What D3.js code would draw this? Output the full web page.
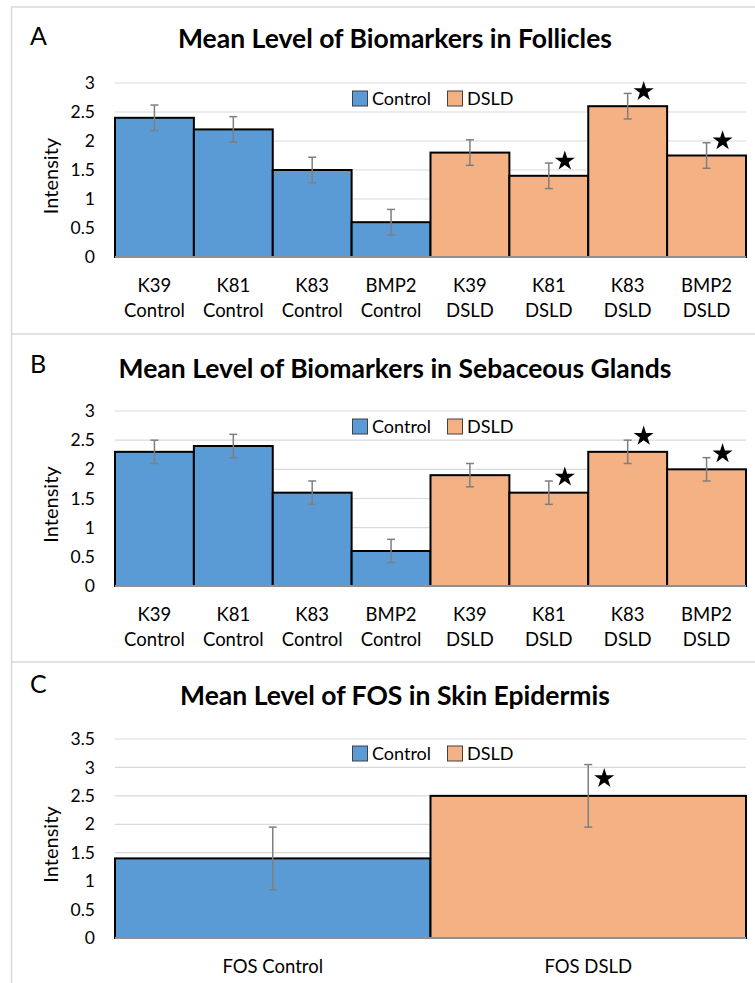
<!DOCTYPE html>
<html>
<head>
<meta charset="utf-8">
<script src="https://cdn.jsdelivr.net/npm/d3@7"></script>
<style>
  html, body { margin: 0; padding: 0; background: #fff; }
  svg { display: block; font-family: Lato, "Open Sans", sans-serif; }
</style>
</head>
<body>
<script>
// values
const bioCats = ["K39 Control", "K81 Control", "K83 Control", "BMP2 Control",
                 "K39 DSLD", "K81 DSLD", "K83 DSLD", "BMP2 DSLD"];
const bioGroups = ["Control", "Control", "Control", "Control", "DSLD", "DSLD", "DSLD", "DSLD"];

const follValues = [2.4, 2.2, 1.5, 0.6, 1.8, 1.4, 2.6, 1.75];
const follErr = [0.22, 0.22, 0.22, 0.22, 0.22, 0.22, 0.22, 0.22];
const follStar = [0, 0, 0, 0, 0, 1, 1, 1];

const sebValues = [2.3, 2.4, 1.6, 0.6, 1.9, 1.6, 2.3, 2.0];
const sebErr = [0.2, 0.2, 0.2, 0.2, 0.2, 0.2, 0.2, 0.2];
const sebStar = [0, 0, 0, 0, 0, 1, 1, 1];

const fosCats = ["FOS Control", "FOS DSLD"];
const fosGroups = ["Control", "DSLD"];
const fosValues = [1.4, 2.5];
const fosErr = [0.55, 0.55];
const fosStar = [0, 1];

const legendKeys = ["Control", "DSLD"];
const colors = { Control: "#5b9bd5", DSLD: "#f4b183" };

let width = 755, height = 983;

var svg = d3.select("body")
  .append("svg")
  .attr("width", width)
  .attr("height", height);

// panel frames
let frame = svg.append("g").attr("stroke", "#d9d9d9").attr("stroke-width", 1.5);
frame.append("line").attr("x1", 11.5).attr("x2", 11.5).attr("y1", 7).attr("y2", height);
[7, 334, 662].forEach(y => {
  frame.append("line").attr("x1", 11).attr("x2", width).attr("y1", y).attr("y2", y);
});

const panels = [
  { letter: "A", title: "Mean Level of Biomarkers in Follicles",
    cats: bioCats, groups: bioGroups, values: follValues, err: follErr, star: follStar,
    yMax: 3, y0: 257, y1: 83, labelY: 45, titleY: 48, legendY: 98, wrap: true, starDy: -2 },
  { letter: "B", title: "Mean Level of Biomarkers in Sebaceous Glands",
    cats: bioCats, groups: bioGroups, values: sebValues, err: sebErr, star: sebStar,
    yMax: 3, y0: 586, y1: 411, labelY: 373, titleY: 378, legendY: 426, wrap: true, starDy: -4 },
  { letter: "C", title: "Mean Level of FOS in Skin Epidermis",
    cats: fosCats, groups: fosGroups, values: fosValues, err: fosErr, star: fosStar,
    yMax: 3.5, y0: 938, y1: 739, labelY: 693, titleY: 705, legendY: 753, wrap: false, starDy: 14 }
];

panels.forEach(drawPanel);

function drawPanel(p) {
  let g = svg.append("g");

  let x = d3.scaleBand().domain(p.cats).range([115, 746]).padding(0);
  let y = d3.scaleLinear().domain([0, p.yMax]).range([p.y0, p.y1]);
  let ticks = d3.range(0, p.yMax + 0.001, 0.5);

  g.append("text")
    .attr("x", 30).attr("y", p.labelY)
    .attr("font-size", 25)
    .attr("fill", "#000")
    .text(p.letter);

  g.append("text")
    .attr("x", 395).attr("y", p.titleY)
    .attr("text-anchor", "middle")
    .attr("font-size", 26.5)
    .attr("font-weight", "bold")
    .text(p.title);

  // gridlines
  g.append("g")
    .selectAll("line")
    .data(ticks.slice(1))
    .enter()
    .append("line")
    .attr("x1", 115).attr("x2", 746)
    .attr("y1", d => y(d)).attr("y2", d => y(d))
    .attr("stroke", "#d9d9d9")
    .attr("stroke-width", 1.2);

  // y axis labels
  let yAxis = g.append("g")
    .attr("transform", "translate(115,0)")
    .call(d3.axisLeft(y).tickValues(ticks).tickSize(0).tickPadding(20).tickFormat(d3.format("")));
  yAxis.select(".domain").remove();
  yAxis.selectAll("text")
    .attr("font-size", 17.5)
    .attr("font-family", "Lato, 'Open Sans', sans-serif")
    .attr("fill", "#000");

  g.append("text")
    .attr("transform", "translate(58," + ((p.y0 + p.y1) / 2 + 6) + ") rotate(-90)")
    .attr("text-anchor", "middle")
    .attr("font-size", 20)
    .text("Intensity");

  // bars
  g.append("g")
    .selectAll("rect")
    .data(p.values)
    .enter()
    .append("rect")
    .attr("x", (d, i) => x(p.cats[i]))
    .attr("y", d => y(d))
    .attr("width", x.bandwidth())
    .attr("height", d => y(0) - y(d))
    .attr("fill", (d, i) => colors[p.groups[i]])
    .attr("stroke", "#000")
    .attr("stroke-width", 2);

  // baseline
  g.append("line")
    .attr("x1", 115).attr("x2", 746)
    .attr("y1", y(0)).attr("y2", y(0))
    .attr("stroke", "#bfbfbf")
    .attr("stroke-width", 1.5);

  // error bars
  let eb = g.append("g")
    .attr("stroke", "#7f7f7f")
    .attr("stroke-width", 1.5)
    .selectAll("g")
    .data(p.values)
    .enter()
    .append("g");
  eb.append("line")
    .attr("x1", (d, i) => x(p.cats[i]) + x.bandwidth() / 2)
    .attr("x2", (d, i) => x(p.cats[i]) + x.bandwidth() / 2)
    .attr("y1", (d, i) => y(d + p.err[i]))
    .attr("y2", (d, i) => y(d - p.err[i]));
  [1, -1].forEach(s => {
    eb.append("line")
      .attr("x1", (d, i) => x(p.cats[i]) + x.bandwidth() / 2 - 4)
      .attr("x2", (d, i) => x(p.cats[i]) + x.bandwidth() / 2 + 4)
      .attr("y1", (d, i) => y(d + s * p.err[i]))
      .attr("y2", (d, i) => y(d + s * p.err[i]));
  });

  // significance stars
  g.append("g")
    .selectAll("path")
    .data(p.values.map((v, i) => ({ v: v, i: i })).filter(d => p.star[d.i]))
    .enter()
    .append("path")
    .attr("d", d3.symbol().type(d3.symbolStar).size(125))
    .attr("transform", d => "translate(" + (x(p.cats[d.i]) + x.bandwidth() / 2 + 16) + "," +
      (y(d.v + p.err[d.i]) + p.starDy) + ")")
    .attr("fill", "#000");

  // category labels
  let lab = g.append("g")
    .attr("font-size", 18.5)
    .attr("text-anchor", "middle")
    .selectAll("text")
    .data(p.cats)
    .enter()
    .append("text")
    .attr("x", d => x(d) + x.bandwidth() / 2)
    .attr("y", y(0) + 35);
  if (p.wrap) {
    lab.append("tspan").attr("x", d => x(d) + x.bandwidth() / 2).text(d => d.split(" ")[0]);
    lab.append("tspan").attr("x", d => x(d) + x.bandwidth() / 2).attr("dy", 25).text(d => d.split(" ")[1]);
  } else {
    lab.text(d => d);
  }

  // legend
  let lg = g.append("g")
    .selectAll("g")
    .data(legendKeys)
    .enter()
    .append("g")
    .attr("transform", (d, i) => "translate(" + (352 + i * 95) + "," + p.legendY + ")");
  lg.append("rect")
    .attr("x", 0.5).attr("y", -7)
    .attr("width", 15).attr("height", 15)
    .attr("fill", d => colors[d])
    .attr("stroke", "#404040")
    .attr("stroke-width", 1);
  lg.append("text")
    .attr("x", 20).attr("y", 6.5)
    .attr("font-size", 18)
    .text(d => d);
}
</script>
</body>
</html>
